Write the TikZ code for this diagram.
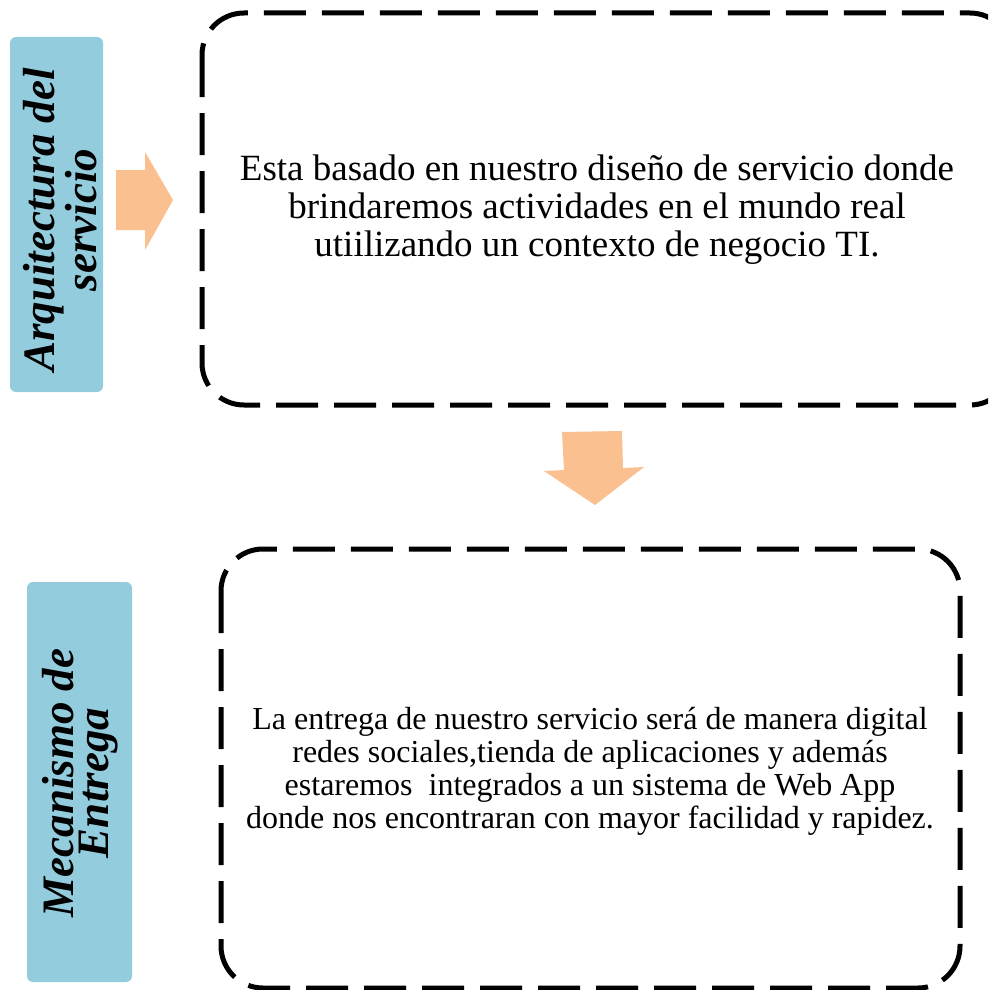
\documentclass[tikz,border=0pt]{standalone}
\usepackage{fontspec}
\setmainfont{Liberation Serif}
\definecolor{lblue}{HTML}{93CDDD}
\definecolor{lorange}{HTML}{FAC090}
\tikzset{
  labelbox/.style={fill=lblue, rounded corners=6pt},
  dashbox/.style={draw=black, line width=5pt, rounded corners=42pt, dash pattern=on 42pt off 16pt},
  bigarrow/.style={fill=lorange, draw=none},
  labeltext/.style={font=\bfseries\itshape\fontsize{45}{35}\selectfont, align=center, rotate=90},
}
\begin{document}
\begin{tikzpicture}[x=1pt,y=-1pt]
\useasboundingbox (0,0) rectangle (988,990);
\clip (0,0) rectangle (988,990);
% label boxes
\fill[labelbox] (10,37) rectangle (103,392);
\node[labeltext] (l1) at (60,220) {Arquitectura del\\servicio};
\fill[labelbox] (27,582) rectangle (132,982);
\node[labeltext] (l2) at (80,783) {Mecanismo de\\Entrega};
% arrows
\fill[bigarrow] (116,170) -- (145,170) -- (145,152) -- (173,200) -- (145,250) -- (145,230) -- (116,230) -- cycle;
\fill[bigarrow] (562,432) -- (622,431) -- (623,468) -- (644,467) -- (595,505) -- (544,471) -- (564,470) -- cycle;
% dashed boxes
\draw[dashbox] (202,13) rectangle (1012,405);
\draw[dashbox] (221,549) rectangle (960,988);
% texts
\node[font=\fontsize{37}{38}\selectfont, align=center] (t1) at (597,210) {Esta basado en nuestro diseño de servicio donde\\brindaremos actividades en el mundo real\\utiilizando un contexto de negocio TI.};
\node[font=\fontsize{32}{33}\selectfont, align=center] (t2) at (590,771) {La entrega de nuestro servicio será de manera digital\\redes sociales,tienda de aplicaciones y además\\estaremos\ \ integrados a un sistema de Web App\\donde nos encontraran con mayor facilidad y rapidez.};
\end{tikzpicture}
\end{document}
